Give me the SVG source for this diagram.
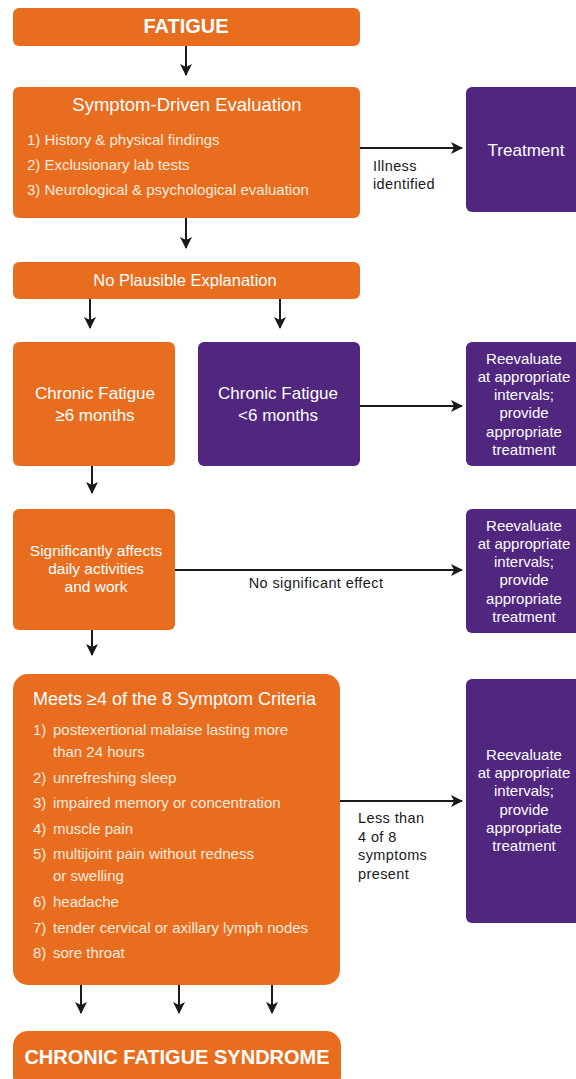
<svg xmlns="http://www.w3.org/2000/svg" width="576" height="1079" viewBox="0 0 576 1079">
<style>
.or{fill:#E96D1F}
.pu{fill:#50267F}
.t{font-family:"Liberation Sans",Arial,sans-serif;fill:#fff}
.ti{fill:#FCEADD}
.c{text-anchor:middle}
.b{font-weight:bold}
.lb{font-family:"Liberation Sans",Arial,sans-serif;fill:#1a1a1a;font-size:14.5px;letter-spacing:0.4px}
.ln{stroke:#1a1a1a;stroke-width:2;fill:none;marker-end:url(#ah)}
</style>
<defs>
<marker id="ah" markerUnits="userSpaceOnUse" markerWidth="14" markerHeight="14" refX="11" refY="6" orient="auto">
<path d="M0,0 L12,6 L0,12 L3,6 z" fill="#1a1a1a"/>
</marker>
</defs>
<g id="connectors">
<line class="ln" x1="186" y1="46" x2="186" y2="75"/>
<line class="ln" x1="186" y1="218" x2="186" y2="248"/>
<line class="ln" x1="90" y1="299" x2="90" y2="328"/>
<line class="ln" x1="280" y1="299" x2="280" y2="328"/>
<line class="ln" x1="92" y1="466" x2="92" y2="493"/>
<line class="ln" x1="92" y1="630" x2="92" y2="655"/>
<line class="ln" x1="81" y1="985" x2="81" y2="1013"/>
<line class="ln" x1="179" y1="985" x2="179" y2="1013"/>
<line class="ln" x1="272" y1="985" x2="272" y2="1013"/>
<line class="ln" x1="360" y1="148" x2="462" y2="148"/>
<line class="ln" x1="360" y1="406" x2="462" y2="406"/>
<line class="ln" x1="175" y1="570" x2="462" y2="570"/>
<line class="ln" x1="340" y1="801" x2="462" y2="801"/>
<text class="lb" x="373" y="171">Illness</text>
<text class="lb" x="373" y="189">identified</text>
<text class="lb c" x="316" y="588">No significant effect</text>
<text class="lb" x="358" y="823">Less than</text>
<text class="lb" x="358" y="842">4 of 8</text>
<text class="lb" x="358" y="860">symptoms</text>
<text class="lb" x="358" y="879">present</text>
</g>
<g id="fatigue">
<rect class="or" x="13" y="8" width="347" height="38" rx="6"/>
<text class="t c b" x="186" y="33" font-size="20">FATIGUE</text>
</g>
<g id="evaluation">
<rect class="or" x="13" y="87" width="347" height="131" rx="6"/>
<text class="t c" x="187" y="111" font-size="18.5">Symptom-Driven Evaluation</text>
<text class="t ti" x="27" y="145" font-size="15">1) History &amp; physical findings</text>
<text class="t ti" x="27" y="170" font-size="15">2) Exclusionary lab tests</text>
<text class="t ti" x="27" y="195" font-size="15">3) Neurological &amp; psychological evaluation</text>
</g>
<g id="treatment">
<rect class="pu" x="466" y="87" width="120" height="125" rx="6"/>
<text class="t c" x="526" y="156" font-size="17">Treatment</text>
</g>
<g id="no-plausible">
<rect class="or" x="13" y="262" width="347" height="37" rx="6"/>
<text class="t c" x="185" y="286" font-size="16.5">No Plausible Explanation</text>
</g>
<g id="cf-ge6">
<rect class="or" x="13" y="342" width="162" height="124" rx="6"/>
<text class="t c" x="95" y="399" font-size="17">Chronic Fatigue</text>
<text class="t c" x="95" y="421" font-size="17">≥6 months</text>
</g>
<g id="cf-lt6">
<rect class="pu" x="198" y="342" width="162" height="124" rx="6"/>
<text class="t c" x="278" y="399" font-size="17">Chronic Fatigue</text>
<text class="t c" x="278" y="421" font-size="17">&lt;6 months</text>
</g>
<g id="reevaluate-1">
<rect class="pu" x="466" y="342" width="120" height="124" rx="6"/>
<text class="t c" x="524" y="364" font-size="15">Reevaluate</text>
<text class="t c" x="524" y="382" font-size="15">at appropriate</text>
<text class="t c" x="524" y="400" font-size="15">intervals;</text>
<text class="t c" x="524" y="418" font-size="15">provide</text>
<text class="t c" x="524" y="437" font-size="15">appropriate</text>
<text class="t c" x="524" y="455" font-size="15">treatment</text>
</g>
<g id="affects">
<rect class="or" x="13" y="509" width="162" height="121" rx="6"/>
<text class="t c" x="96" y="556" font-size="15.5">Significantly affects</text>
<text class="t c" x="96" y="574" font-size="15.5">daily activities</text>
<text class="t c" x="96" y="592" font-size="15.5">and work</text>
</g>
<g id="reevaluate-2">
<rect class="pu" x="466" y="509" width="120" height="124" rx="6"/>
<text class="t c" x="524" y="531" font-size="15">Reevaluate</text>
<text class="t c" x="524" y="549" font-size="15">at appropriate</text>
<text class="t c" x="524" y="567" font-size="15">intervals;</text>
<text class="t c" x="524" y="585" font-size="15">provide</text>
<text class="t c" x="524" y="604" font-size="15">appropriate</text>
<text class="t c" x="524" y="622" font-size="15">treatment</text>
</g>
<g id="criteria">
<rect class="or" x="13" y="674" width="327" height="311" rx="15"/>
<text class="t" x="33" y="705" font-size="18">Meets ≥4 of the 8 Symptom Criteria</text>
<g class="t ti" font-size="15">
<text x="33" y="735">1)</text><text x="53" y="735">postexertional malaise lasting more</text>
<text x="53" y="757">than 24 hours</text>
<text x="33" y="783">2)</text><text x="53" y="783">unrefreshing sleep</text>
<text x="33" y="808">3)</text><text x="53" y="808">impaired memory or concentration</text>
<text x="33" y="834">4)</text><text x="53" y="834">muscle pain</text>
<text x="33" y="859">5)</text><text x="53" y="859">multijoint pain without redness</text>
<text x="53" y="881">or swelling</text>
<text x="33" y="907">6)</text><text x="53" y="907">headache</text>
<text x="33" y="933">7)</text><text x="53" y="933">tender cervical or axillary lymph nodes</text>
<text x="33" y="958">8)</text><text x="53" y="958">sore throat</text>
</g>
</g>
<g id="reevaluate-3">
<rect class="pu" x="466" y="679" width="120" height="244" rx="6"/>
<text class="t c" x="524" y="760" font-size="15">Reevaluate</text>
<text class="t c" x="524" y="778" font-size="15">at appropriate</text>
<text class="t c" x="524" y="796" font-size="15">intervals;</text>
<text class="t c" x="524" y="815" font-size="15">provide</text>
<text class="t c" x="524" y="833" font-size="15">appropriate</text>
<text class="t c" x="524" y="851" font-size="15">treatment</text>
</g>
<g id="cfs">
<rect class="or" x="13" y="1031" width="328" height="60" rx="15"/>
<text class="t c b" x="177" y="1064" font-size="20">CHRONIC FATIGUE SYNDROME</text>
</g>
</svg>
